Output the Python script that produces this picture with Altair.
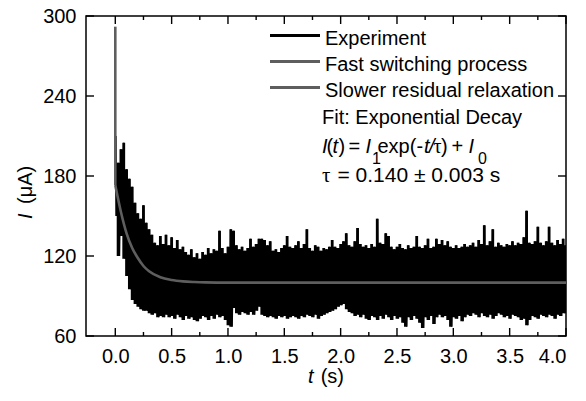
import altair as alt
import pandas as pd

# ---------------- data ----------------
# Experiment: upper envelope sampled every 0.025 s starting at t = 0
exp_upper = [210, 190, 200, 205, 185, 178, 172, 160, 152, 148, 158, 145, 140, 136, 130, 128,
             135, 129, 136, 128, 134, 126, 132, 125, 127, 123, 121, 125, 119, 122, 118, 123,
             121, 126, 122, 125, 124, 139, 126, 122, 127, 140, 139, 128, 125, 127, 124, 126,
             133, 127, 129, 133, 133, 132, 128, 131, 124, 125, 123, 126, 128, 135, 127, 126,
             128, 131, 126, 129, 140, 126, 124, 128, 127, 124, 126, 125, 127, 132, 127, 126,
             129, 131, 137, 128, 127, 131, 141, 129, 127, 128, 126, 129, 127, 148, 130, 129,
             137, 135, 127, 125, 127, 129, 126, 125, 128, 126, 127, 135, 127, 126, 128, 133,
             126, 127, 133, 129, 132, 128, 131, 127, 126, 128, 126, 127, 129, 127, 128, 130,
             127, 132, 129, 143, 128, 131, 140, 127, 130, 128, 127, 129, 128, 131, 128, 130,
             129, 134, 154, 130, 129, 131, 142, 130, 128, 131, 142, 130, 128, 132, 129, 133,
             128]
# Experiment: lower envelope sampled every 0.025 s starting at t = 0.0125
exp_lower = [150, 120, 135, 118, 105, 95, 87, 84, 82, 80, 79, 79, 77, 76, 77, 74,
             75, 74, 76, 74, 75, 73, 76, 74, 72, 75, 73, 74, 72, 71, 73, 75,
             74, 72, 75, 73, 76, 74, 75, 72, 68, 67, 81, 77, 76, 78, 77, 76,
             78, 76, 79, 82, 76, 75, 74, 75, 74, 73, 75, 74, 75, 73, 74, 75,
             74, 73, 75, 74, 76, 75, 74, 76, 73, 75, 76, 77, 78, 79, 80, 82,
             83, 84, 80, 78, 77, 75, 76, 74, 76, 73, 72, 75, 74, 72, 75, 73,
             76, 74, 72, 75, 73, 74, 70, 67, 74, 72, 75, 73, 70, 66, 74, 72,
             75, 69, 74, 76, 74, 75, 72, 67, 74, 73, 75, 71, 74, 76, 75, 77,
             76, 74, 77, 75, 74, 76, 73, 75, 77, 76, 74, 75, 73, 76, 75, 74,
             72, 73, 68, 72, 75, 74, 73, 76, 75, 74, 76, 75, 73, 76, 75, 77]
sample_step = 0.025

# Fast switching process (vertical drop at t = 0)
fast_t = [0.0, 0.0]
fast_i = [292, 173]

# Slower residual relaxation (fitted exponential decay)
slow_t = [0.0, 0.05, 0.1, 0.15, 0.2, 0.25, 0.3, 0.4, 0.5, 0.6, 0.7, 0.8, 1.0, 4.0]
slow_i = [173, 153, 137, 126, 118.5, 112.5, 108.5, 104, 102, 101, 100.5, 100.2, 100, 100]

# Axis ticks
x_major = [0.0, 0.5, 1.0, 1.5, 2.0, 2.5, 3.0, 3.5, 4.0]
x_minor = [0.25, 0.75, 1.25, 1.75, 2.25, 2.75, 3.25, 3.75]
y_major = [60, 120, 180, 240, 300]
x_domain = [-0.26, 4.0]
y_domain = [60, 300]

legend_labels = ["Experiment", "Fast switching process", "Slower residual relaxation"]
fit_title = "Fit: Exponential Decay"
tau_value = "= 0.140 ± 0.003 s"

# ---------------- build tables ----------------
rows = []
for k, up in enumerate(exp_upper):
    rows.append({"t": round(k * sample_step, 5), "I": up})
    if k < len(exp_lower):
        rows.append({"t": round(k * sample_step + sample_step / 2, 5), "I": exp_lower[k]})
df_exp = pd.DataFrame(rows)
df_exp["idx"] = range(len(df_exp))

band_rows = []
for k, up in enumerate(exp_upper):
    lo = exp_lower[min(k, len(exp_lower) - 1)]
    band_rows.append({"t": round(k * sample_step, 5), "hi": up, "lo": lo})
df_band = pd.DataFrame(band_rows)

df_fast = pd.DataFrame({"t": fast_t, "I": fast_i, "idx": range(len(fast_t))})
df_slow = pd.DataFrame({"t": slow_t, "I": slow_i})

W, H = 480, 320
FONT = "Liberation Sans"
SERIF = "Liberation Serif"
GRAY = "#5e5e5e"

xs = alt.Scale(domain=x_domain, nice=False, zero=False)
ys = alt.Scale(domain=y_domain, nice=False, zero=False)

x_axis = alt.Axis(values=x_major, format=".1f", ticks=False, domain=False, grid=False,
                  labelFont=FONT, labelFontSize=20, labelPadding=10, labelColor="black",
                  title=None)
y_axis = alt.Axis(values=y_major, format="d", ticks=False, domain=False, grid=False,
                  labelFont=FONT, labelFontSize=20, labelPadding=10, labelColor="black",
                  title=None)

band_layer = alt.Chart(df_band).mark_area(color="black", opacity=1, clip=True,
                                          interpolate="step").encode(
    x=alt.X("t:Q", scale=xs, axis=x_axis),
    y=alt.Y("hi:Q", scale=ys, axis=y_axis),
    y2="lo:Q",
)
exp_layer = alt.Chart(df_exp).mark_line(color="black", strokeWidth=1.4, clip=True).encode(
    x=alt.X("t:Q", scale=xs),
    y=alt.Y("I:Q", scale=ys),
    order="idx:Q",
)
fast_layer = alt.Chart(df_fast).mark_line(color=GRAY, strokeWidth=2.6, clip=True).encode(
    x=alt.X("t:Q", scale=xs), y=alt.Y("I:Q", scale=ys), order="idx:Q"
)
slow_layer = alt.Chart(df_slow).mark_line(color=GRAY, strokeWidth=2.6, interpolate="monotone",
                                          clip=True).encode(
    x=alt.X("t:Q", scale=xs), y=alt.Y("I:Q", scale=ys)
)

def xticks(vals, length):
    d = pd.DataFrame({"v": vals})
    bot = alt.Chart(d).mark_rule(color="black", strokeWidth=1.4).encode(
        x=alt.X("v:Q", scale=xs), y=alt.value(H), y2=alt.value(H - length))
    top = alt.Chart(d).mark_rule(color="black", strokeWidth=1.4).encode(
        x=alt.X("v:Q", scale=xs), y=alt.value(0), y2=alt.value(length))
    return [bot, top]

def yticks(vals, length):
    d = pd.DataFrame({"v": vals})
    left = alt.Chart(d).mark_rule(color="black", strokeWidth=1.4).encode(
        y=alt.Y("v:Q", scale=ys), x=alt.value(0), x2=alt.value(length))
    right = alt.Chart(d).mark_rule(color="black", strokeWidth=1.4).encode(
        y=alt.Y("v:Q", scale=ys), x=alt.value(W), x2=alt.value(W - length))
    return [left, right]

dummy = pd.DataFrame({"a": [0]})

def txt(s, x, y, size=20, style="normal", angle=0, align="left", font=FONT):
    kw = dict(text=s, font=font, fontSize=size, fontStyle=style, color="black",
              align=align, baseline="alphabetic")
    if angle:
        kw["angle"] = angle
    return alt.Chart(dummy).mark_text(**kw).encode(x=alt.value(x), y=alt.value(y))

def legline(y, color, width):
    return alt.Chart(dummy).mark_rule(color=color, strokeWidth=width).encode(
        x=alt.value(184), x2=alt.value(234), y=alt.value(y))

FY = 136.5
annot = [
    legline(19.5, "black", 3), txt(legend_labels[0], 239, 29),
    legline(45.5, GRAY, 3), txt(legend_labels[1], 239, 54.5),
    legline(71.5, GRAY, 3), txt(legend_labels[2], 239, 80.5),
    txt(fit_title, 236, 108),
    # I(t) = I1 exp(-t/tau) + I0
    txt("I", 236, FY, style="italic"),
    txt("(", 240.5, FY),
    txt("t", 246.5, FY, style="italic"),
    txt(")", 252.5, FY),
    txt("=", 262.5, FY),
    txt("I", 279.5, FY, style="italic"),
    txt("1", 286, 148, size=16),
    txt("exp(-", 291.5, FY),
    txt("t", 338, FY, style="italic"),
    txt("/", 343, FY, style="italic"),
    txt("τ", 347.5, FY, font=SERIF),
    txt(")", 355, FY),
    txt("+", 365.5, FY),
    txt("I", 382.5, FY, style="italic"),
    txt("0", 392, 148, size=16),
    txt("τ", 236, 166, size=21, font=SERIF),
    txt(tau_value, 251.5, 166, size=21),
    # axis titles
    txt("t", 222, 367, style="italic"),
    txt("(s)", 234.7, 367),
    txt("I", -54.5, 203, style="italic", angle=270),
    txt("(μA)", -54.5, 188, angle=270),
]

layers = [band_layer, exp_layer, fast_layer, slow_layer] + xticks(x_major, 8) \
    + xticks(x_minor, 4) + yticks(y_major, 8) + annot

chart = alt.layer(*layers).properties(
    width=W, height=H,
    autosize=alt.AutoSizeParams(type="none"),
    padding={"left": 86, "top": 16, "right": 20, "bottom": 65},
    background="white",
).configure_view(stroke="black", strokeWidth=1.5)

chart.save("out.html", embed_options={"renderer": "svg", "actions": False})
